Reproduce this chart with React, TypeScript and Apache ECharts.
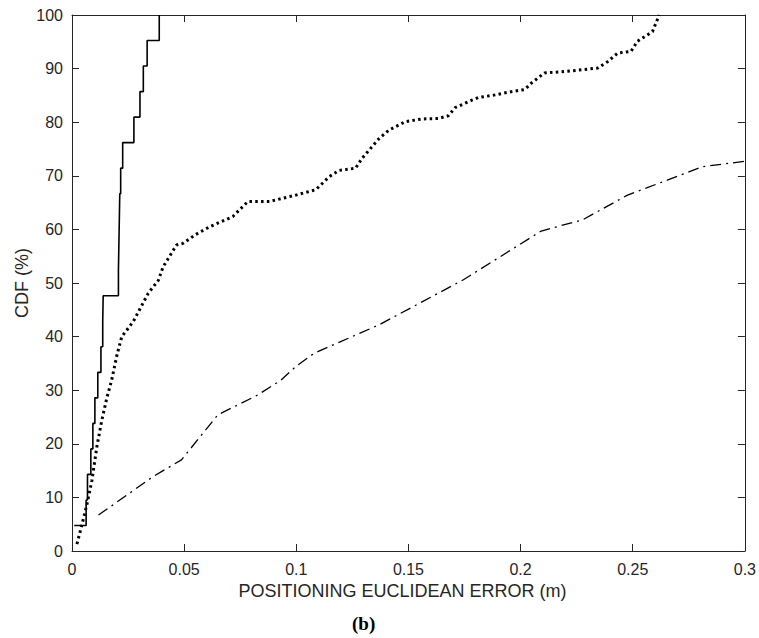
import React, { useEffect, useRef } from "react";
import * as echarts from "echarts";

// Solid step CDF (sample x values and CDF %)
const solidX = [0.001, 0.0063, 0.0069, 0.0084, 0.0093, 0.0102, 0.0115, 0.0129, 0.0137, 0.0139, 0.0207, 0.0209, 0.0211, 0.0213, 0.0217, 0.0226, 0.0276, 0.0303, 0.0318, 0.0335, 0.0389];
const solidY = [4.76, 9.52, 14.29, 19.05, 23.81, 28.57, 33.33, 38.1, 42.86, 47.62, 52.38, 57.14, 61.9, 66.67, 71.43, 76.19, 80.95, 85.71, 90.48, 95.24, 100];

// Dotted curve
const dottedX = [0.0022, 0.0045, 0.0067, 0.0089, 0.0111, 0.0133, 0.0155, 0.0177, 0.02, 0.0222, 0.0273, 0.034, 0.0385, 0.0406, 0.0466, 0.0495, 0.055, 0.0614, 0.0717, 0.0784, 0.088, 0.0998, 0.1087, 0.1146, 0.119, 0.1264, 0.1294, 0.1368, 0.1412, 0.1486, 0.156, 0.1634, 0.1678, 0.1708, 0.1782, 0.1811, 0.1886, 0.1959, 0.2019, 0.2048, 0.2107, 0.2181, 0.2255, 0.2344, 0.2388, 0.2433, 0.2492, 0.2521, 0.2588, 0.2618];
const dottedY = [1.3, 5, 8.8, 13.2, 19.5, 24.4, 28.5, 31.9, 36.5, 40, 42.8, 48.1, 50.5, 53, 57.1, 57.4, 59, 60.5, 62.4, 65.2, 65.2, 66.4, 67.4, 69.8, 71, 71.4, 73.3, 76.9, 78.5, 80.1, 80.6, 80.7, 81.2, 82.7, 84.1, 84.6, 85.1, 85.7, 86.1, 87.3, 89.2, 89.4, 89.7, 90.1, 91.3, 92.9, 93.2, 95.1, 96.9, 100];

// Dash-dot curve
const dashDotX = [0.0118, 0.0362, 0.0488, 0.065, 0.0828, 0.0932, 0.1, 0.108, 0.1369, 0.1745, 0.2092, 0.2277, 0.2477, 0.2654, 0.281, 0.3];
const dashDotY = [6.7, 13.9, 17, 25.4, 29.1, 31.9, 34.5, 36.9, 42.2, 50.6, 59.7, 61.8, 66.4, 69.2, 71.7, 72.7];

const xTitle = "POSITIONING EUCLIDEAN ERROR (m)";
const yTitle = "CDF (%)";
const caption = "(b)";

const zip = (xs: number[], ys: number[]) => xs.map((x, i) => [x, ys[i]]);

const AXIS_COLOR = "#262626";
const FONT = "Liberation Sans, Arial, Helvetica, sans-serif";

export default function App() {
  const ref = useRef<HTMLDivElement>(null);
  useEffect(() => {
    if (!ref.current) return;
    const chart = echarts.init(ref.current, undefined, { renderer: "svg" });
    const fmt = (v: number) => String(parseFloat(v.toFixed(2)));
    const xCommon = {
      type: "value" as const,
      min: 0,
      max: 0.3,
      interval: 0.05,
      splitLine: { show: false },
      axisLine: { show: true, onZero: false, lineStyle: { color: AXIS_COLOR, width: 1 } },
      axisTick: { show: true, inside: true, length: 7, lineStyle: { color: AXIS_COLOR } },
    };
    const yCommon = {
      type: "value" as const,
      min: 0,
      max: 100,
      interval: 10,
      splitLine: { show: false },
      axisLine: { show: true, onZero: false, lineStyle: { color: AXIS_COLOR, width: 1 } },
      axisTick: { show: true, inside: true, length: 7, lineStyle: { color: AXIS_COLOR } },
    };
    chart.setOption({
      animation: false,
      backgroundColor: "#ffffff",
      grid: { left: 72, right: 11, top: 15, bottom: 87, containLabel: false },
      xAxis: [
        {
          ...xCommon,
          position: "bottom",
          axisLabel: { show: true, color: AXIS_COLOR, fontSize: 16, fontFamily: FONT, margin: 10, formatter: fmt },
          name: xTitle,
          nameLocation: "middle",
          nameGap: 31,
          nameMoveOverlap: false,
          nameTextStyle: { color: AXIS_COLOR, fontSize: 18, fontFamily: FONT, padding: [0, 12, 0, 0] },
        },
        { ...xCommon, position: "top", axisLabel: { show: false } },
      ],
      yAxis: [
        {
          ...yCommon,
          position: "left",
          axisLabel: { show: true, color: AXIS_COLOR, fontSize: 16, fontFamily: FONT, margin: 9 },
          name: yTitle,
          nameLocation: "middle",
          nameGap: 41,
          nameMoveOverlap: false,
          nameTextStyle: { color: AXIS_COLOR, fontSize: 18, fontFamily: FONT },
        },
        { ...yCommon, position: "right", axisLabel: { show: false } },
      ],
      series: [
        {
          type: "line",
          xAxisIndex: 0,
          yAxisIndex: 0,
          data: zip(solidX, solidY),
          step: "end",
          showSymbol: false,
          lineStyle: { color: "#000", width: 1.6, type: "solid" },
        },
        {
          type: "line",
          xAxisIndex: 0,
          yAxisIndex: 0,
          data: zip(dottedX, dottedY),
          showSymbol: false,
          lineStyle: { color: "#000", width: 3, type: [2.5, 3.3], cap: "butt" },
        },
        {
          type: "line",
          xAxisIndex: 0,
          yAxisIndex: 0,
          data: zip(dashDotX, dashDotY),
          showSymbol: false,
          lineStyle: { color: "#000", width: 1.3, type: [11, 5, 2, 5] },
        },
      ],
      graphic: [
        {
          type: "text",
          left: 352,
          top: 614,
          style: {
            text: caption,
            fill: "#000",
            font: "bold 19px 'Liberation Serif', 'DejaVu Serif', serif",
          },
        },
      ],
    });
    return () => chart.dispose();
  }, []);
  return (
    <div
      ref={ref}
      style={{ position: "fixed", left: 0, top: 0, width: 759, height: 638, background: "#fff" }}
    />
  );
}
